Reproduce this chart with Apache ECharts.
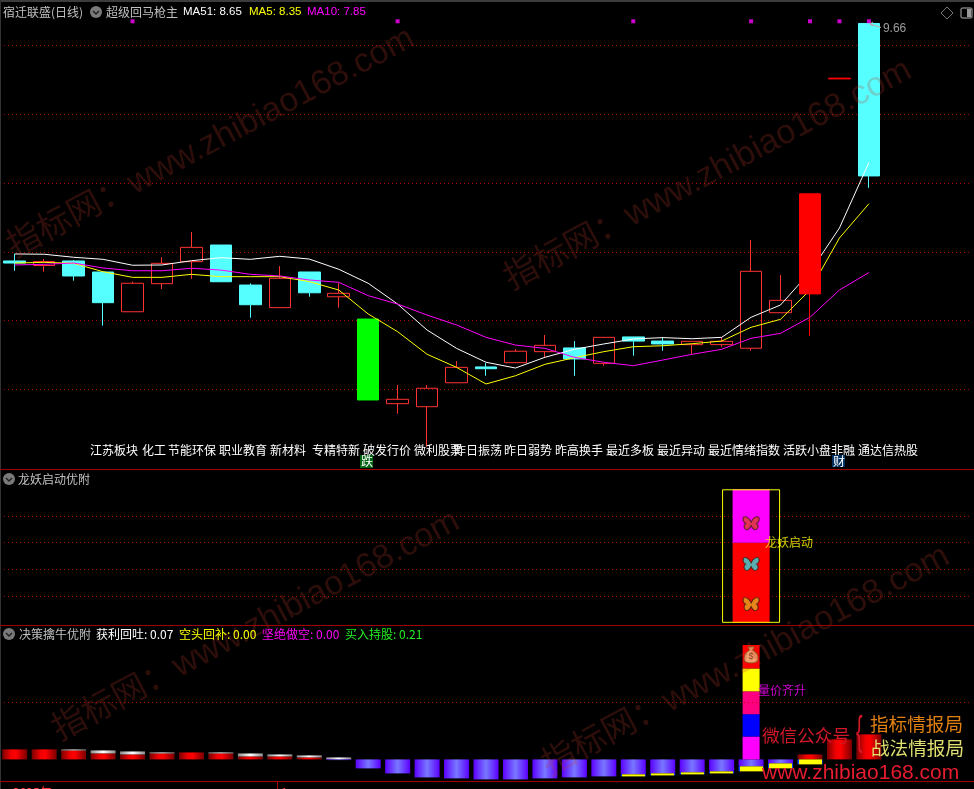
<!DOCTYPE html>
<html>
<head>
<meta charset="utf-8">
<style>
  html, body { margin: 0; padding: 0; background: #000; overflow: hidden; }
  #main { width: 974px; height: 789px; }
</style>
<script src="https://cdn.jsdelivr.net/npm/echarts@6/dist/echarts.min.js"></script>
</head>
<body>
<div id="main"></div>
<script>
// kline
const kinds  = ['cyan','hollow','cyan','cyan','hollow','hollow','hollow','cyan','cyan','hollow','cyan','hollow','green','hollow','hollow','hollow','cyan','hollow','hollow','cyan','hollow','cyan','cyan','hollow','hollow','hollow','hollow','red','red','cyan']
const opens  = [7.934,7.901,7.934,7.854,7.565,7.769,7.929,8.050,7.759,7.595,7.854,7.674,7.512,6.897,6.875,7.049,7.164,7.195,7.275,7.302,7.190,7.382,7.352,7.326,7.326,7.300,7.558,7.696,9.257,9.660]
const closes = [7.919,7.930,7.825,7.631,7.772,7.917,8.033,7.783,7.616,7.808,7.703,7.699,6.924,6.929,7.009,7.161,7.151,7.278,7.321,7.222,7.379,7.352,7.331,7.350,7.350,7.859,7.648,8.421,9.263,8.552]
const lows   = [7.863,7.856,7.791,7.464,7.565,7.730,7.805,7.783,7.522,7.595,7.674,7.595,6.924,6.824,6.584,7.049,7.100,7.195,7.231,7.100,7.173,7.246,7.282,7.256,7.311,7.282,7.558,7.391,9.257,8.466]
const highs  = [7.985,7.948,7.941,7.854,7.784,7.961,8.145,8.050,7.772,7.897,7.854,7.772,7.512,7.033,7.033,7.207,7.192,7.294,7.396,7.352,7.379,7.382,7.379,7.350,7.379,8.087,7.832,8.421,9.263,9.660]
const ma51 = [7.985,7.983,7.961,7.946,7.903,7.905,7.936,7.958,7.946,7.968,7.948,7.874,7.772,7.621,7.432,7.299,7.198,7.156,7.234,7.292,7.331,7.367,7.377,7.369,7.379,7.525,7.614,7.854,8.174,8.650]
const ma5  = [7.919,7.924,7.917,7.856,7.815,7.815,7.837,7.820,7.820,7.820,7.784,7.723,7.549,7.420,7.256,7.161,7.040,7.100,7.183,7.231,7.275,7.311,7.318,7.333,7.352,7.452,7.510,7.723,8.101,8.350]
const ma10 = [7.905,7.910,7.919,7.883,7.863,7.863,7.881,7.868,7.837,7.825,7.796,7.779,7.682,7.621,7.541,7.469,7.379,7.323,7.299,7.234,7.198,7.173,7.214,7.256,7.292,7.372,7.408,7.525,7.723,7.850]
const signalSlots = [4,13,21,25,27,28,29]
const signalLevel = 9.676

// 龙妖启动 panel
const dragonSlot = 25
const dragonRed = 3
const dragonMagenta = 2
const dragonBox = 5
const butterflies = [[3.73,'#d8402c'],[2.2,'#30d8dc'],[0.7,'#e0a820']]

// 决策擒牛 panel
const profitRed   = [0.175,0.175,0.157,0.105,0.087,0.105,0.122,0.105,0.052,0.052,0.035,null,null,null,null,null,null,null,null,null,null,null,null,null,null,null,null,0.087,0.350,0.437]
const profitWhite = [null,null,0.017,0.052,0.052,0.017,null,0.017,0.052,0.035,0.035,0.035,null,null,null,null,null,null,null,null,null,null,null,null,null,null,null,null,null,null]
const holdPurple  = [null,null,null,null,null,null,null,null,null,null,null,-0.012,-0.157,-0.245,-0.315,-0.332,-0.350,-0.350,-0.332,-0.315,-0.297,-0.262,-0.245,-0.227,-0.210,-0.122,-0.070,null,null,null]
const holdYellow  = [null,null,null,null,null,null,null,null,null,null,null,null,null,null,null,null,null,null,null,null,null,-0.035,-0.035,-0.035,-0.035,-0.087,-0.087,-0.087,null,null]
const riseSlot = 25
const riseValues = [0.40,0.39,0.40,0.40,0.41]
const riseColors = ['#ff00ff','#0000ff','#ff0080','#ffff00','#ff0000']
const bagLevel = 1.827
const riseLabelLevel = 1.2

const sectorTags = ['江苏板块','化工','节能环保','职业教育','新材料','专精特新','破发行价','微利股票','昨日振荡','昨日弱势','昨高换手','最近多板','最近异动','最近情绪指数','活跃小盘非融','通达信热股']
const sectorLeft = [90,142,168,219,270,312,363,414,454,504,555,606,657,708,783,858]

const slots = opens.map((_, i) => String(i + 1)).concat(['', '', ''])

const UI = '"Noto Sans CJK SC", sans-serif'
const LATIN = '"Liberation Sans", sans-serif'
const GRID_RED = '#b00000'

const kindColors = {
  cyan: ['#55ffff', '#55ffff'],
  hollow: ['transparent', '#ff3232'],
  green: ['#00ff00', '#00ff00'],
  red: ['#ff0000', '#ff0000']
}

function candleItem(i) {
  const c = kindColors[kinds[i]]
  return {
    value: [opens[i], closes[i], lows[i], highs[i]],
    itemStyle: { color: c[0], color0: c[0], borderColor: c[1], borderColor0: c[1] }
  }
}

function bands(stops) {
  return new echarts.graphic.LinearGradient(0, 0, 1, 0, stops)
}
const redFill = bands([{offset:0,color:'#7a0000'},{offset:0.35,color:'#f00000'},{offset:0.55,color:'#ff0000'},{offset:1,color:'#7a0000'}])
const whiteFill = bands([{offset:0,color:'#8a8a8a'},{offset:0.5,color:'#ffffff'},{offset:1,color:'#8a8a8a'}])
const purpleFill = bands([{offset:0,color:'#5c00ff'},{offset:0.5,color:'#7878ff'},{offset:1,color:'#5c00ff'}])
const yellowFill = bands([{offset:0,color:'#0040ff'},{offset:0.04,color:'#0040ff'},{offset:0.04,color:'#ffff00'},{offset:0.96,color:'#ffff00'},{offset:0.96,color:'#0040ff'},{offset:1,color:'#0040ff'}])

const BUTTERFLY = 'path://M8 5C6 1 3 0 1 1C0 3 1 5 3 6C1 7 1 10 3 11C5 12 7 10 8 8C9 10 11 12 13 11C15 10 15 7 13 6C15 5 16 3 15 1C13 0 10 1 8 5Z'
const BAG = 'path://M5 0L11 0L9.5 3C13 5 15 8 15 11C15 14 12 15 8 15C4 15 1 14 1 11C1 8 3 5 6.5 3Z'

function xAxis(gridIndex) {
  return { type: 'category', gridIndex, data: slots, show: false, boundaryGap: true }
}
function yAxis(gridIndex, min, max, interval, lines) {
  return {
    type: 'value', gridIndex, min, max, interval,
    axisLine: { show: false }, axisTick: { show: false }, axisLabel: { show: false },
    splitLine: {
      show: lines, showMinLine: false, showMaxLine: false,
      lineStyle: { color: GRID_RED, type: [1, 3], width: 1 }
    }
  }
}

function label(text, x, y, fill, size, family) {
  return {
    type: 'text', x, y, z: 50,
    style: { text, fill, font: (size || 12) + 'px ' + (family || UI), verticalAlign: 'middle' }
  }
}
function line(x1, y1, x2, y2, stroke, width) {
  return { type: 'line', z: 50, shape: { x1, y1, x2, y2 }, style: { stroke, lineWidth: width || 1 } }
}
function chevron(x, y) {
  return [
    { type: 'circle', z: 50, shape: { cx: x, cy: y, r: 6 }, style: { fill: '#7a7a7a' } },
    { type: 'polyline', z: 51, shape: { points: [[x - 3, y - 1], [x, y + 2], [x + 3, y - 1]] }, style: { stroke: '#222', lineWidth: 1.5, fill: null } }
  ]
}
function watermark(x, y) {
  return {
    type: 'text', x, y, z: 40, rotation: 28 * Math.PI / 180,
    style: { text: '指标网：www.zhibiao168.com', fill: 'rgba(190,60,40,0.24)', font: '34px ' + LATIN + ', "Noto Sans CJK SC"', verticalAlign: 'middle' }
  }
}

const graphics = [
  watermark(10, 250), watermark(507, 282), watermark(55, 733), watermark(545, 768),
  { type: 'rect', z: 50, shape: { x: 0, y: 0, width: 974, height: 2 }, style: { fill: '#3c3c3c' } },
  line(0.5, 0, 0.5, 789, '#333'),
  line(0, 469.5, 974, 469.5, '#a00000'),
  line(0, 625.5, 974, 625.5, '#a00000'),
  line(0, 781.5, 974, 781.5, '#a00000'),
  // header main
  label('宿迁联盛(日线)', 3, 12, '#c0c0c0'),
  ...chevron(96, 12),
  label('超级回马枪主', 106, 12, '#c0c0c0'),
  label('MA51: 8.65', 183, 12, '#ffffff', 11.5, LATIN),
  label('MA5: 8.35', 249, 12, '#ffff00', 11.5, LATIN),
  label('MA10: 7.85', 307, 12, '#ff00ff', 11.5, LATIN),
  // top right tools
  { type: 'polygon', z: 50, shape: { points: [[947, 7], [953, 13], [947, 19], [941, 13]] }, style: { stroke: '#777', fill: null } },
  { type: 'rect', z: 50, shape: { x: 961, y: 8, width: 11, height: 10, r: 2 }, style: { stroke: '#777', fill: null, lineWidth: 1.5 } },
  { type: 'rect', z: 51, shape: { x: 967, y: 9, width: 4, height: 8 }, style: { fill: '#999' } },
  // high price pointer
  { type: 'polyline', z: 50, shape: { points: [[881, 27.5], [870, 24]] }, style: { stroke: '#c8a0a0', fill: null } },
  { type: 'polyline', z: 50, shape: { points: [[873, 22], [870, 24], [873, 26]] }, style: { stroke: '#c8a0a0', fill: null } },
  // sector tag row
  ...sectorTags.map((t, i) => label(t, sectorLeft[i], 450, '#ffffff')),
  { type: 'rect', z: 50, shape: { x: 360, y: 455, width: 13, height: 13 }, style: { fill: '#006414' } },
  label('跌', 361, 461.5, '#ffffff'),
  { type: 'rect', z: 50, shape: { x: 832, y: 455, width: 13, height: 12 }, style: { fill: '#003060' } },
  label('财', 833, 461, '#ffffff'),
  // panel 2, panel 3 headers
  ...chevron(9, 479),
  label('龙妖启动优附', 18, 479, '#c0c0c0'),
  ...chevron(9, 634),
  label('决策擒牛优附', 19, 634, '#c0c0c0'),
  label('获利回吐: 0.07', 96, 634, '#ffffff'),
  label('空头回补: 0.00', 179, 634, '#ffff00'),
  label('坚绝做空: 0.00', 262, 634, '#ff00ff'),
  label('买入持股: 0.21', 345, 634, '#20f020'),
  // date strip, cut by the window edge
  label('2025年', 13, 792, '#ff3232'),
  line(277.5, 781, 277.5, 789, '#a00000'),
  label('1', 281, 792, '#ff3232'),
  // site logo
  label('微信公众号', 762, 735, '#d01828', 17.6),
  { type: 'text', x: 856, y: 734, z: 50, scaleX: 0.5, style: { text: '{', fill: '#d01828', font: '40px ' + LATIN, verticalAlign: 'middle' } },
  label('指标情报局', 870, 724, '#e08010', 18.6),
  label('战法情报局', 871, 748, '#e0e070', 18.6),
  label('www.zhibiao168.com', 762, 773, '#e81c30', 21, LATIN)
]

const option = {
  backgroundColor: '#000',
  animation: false,
  grid: [
    { left: -2, width: 974, top: 11.1, height: 447.2 },
    { left: -2, width: 974, top: 489.3, height: 133.5 },
    { left: -2, width: 974, top: 645, height: 135.85 }
  ],
  xAxis: [xAxis(0), xAxis(1), xAxis(1), xAxis(2), xAxis(2)],
  yAxis: [yAxis(0, 6.5, 9.75, 0.5, true), yAxis(1, 0, 5, 1, true), yAxis(2, -0.375, 2, 1, false)],
  series: [
    {
      type: 'candlestick', xAxisIndex: 0, yAxisIndex: 0, barWidth: 22, z: 2,
      itemStyle: { borderWidth: 1 },
      data: opens.map((_, i) => candleItem(i))
    },
    ...[[ma51, '#ffffff'], [ma5, '#ffff00'], [ma10, '#ff00ff']].map(([data, color]) => ({
      type: 'line', xAxisIndex: 0, yAxisIndex: 0, data, symbol: 'none', z: 3,
      lineStyle: { color, width: 1 }
    })),
    {
      // the big red candle covers the averages
      type: 'candlestick', xAxisIndex: 0, yAxisIndex: 0, barWidth: 22, z: 4,
      itemStyle: { borderWidth: 1 },
      data: opens.map((_, i) => (i === 27 ? candleItem(i) : '-'))
    },
    {
      type: 'scatter', xAxisIndex: 0, yAxisIndex: 0, symbol: 'rect', symbolSize: 4, z: 5,
      itemStyle: { color: '#ff00ff' },
      data: signalSlots.map(i => [i, signalLevel])
    },
    {
      type: 'scatter', xAxisIndex: 0, yAxisIndex: 0, symbolSize: 0, z: 5,
      data: [[29, highs[29]]],
      label: { show: true, position: 'right', offset: [9, 5], color: '#c0c0c0', fontSize: 12, fontFamily: LATIN, formatter: p => p.value[1].toFixed(2) }
    },
    // 龙妖启动
    { type: 'bar', xAxisIndex: 1, yAxisIndex: 1, stack: 'dragon', barWidth: 37, data: [[dragonSlot, dragonRed]], itemStyle: { color: '#ff0000' } },
    { type: 'bar', xAxisIndex: 1, yAxisIndex: 1, stack: 'dragon', barWidth: 37, data: [[dragonSlot, dragonMagenta]], itemStyle: { color: '#ff00ff' } },
    { type: 'bar', xAxisIndex: 2, yAxisIndex: 1, barWidth: 58, z: 3, data: [[dragonSlot, dragonBox]], itemStyle: { color: 'transparent', borderColor: '#ffff00', borderWidth: 1 } },
    {
      type: 'scatter', xAxisIndex: 1, yAxisIndex: 1, symbol: BUTTERFLY, symbolSize: [16, 13], z: 6,
      data: butterflies.map(b => ({ value: [dragonSlot, b[0]], itemStyle: { color: b[1], borderColor: '#3a1c10', borderWidth: 1 } }))
    },
    {
      type: 'scatter', xAxisIndex: 1, yAxisIndex: 1, symbolSize: 0, z: 6,
      data: [[dragonSlot, dragonRed]],
      label: { show: true, position: 'right', offset: [9, 0], color: '#ffff00', fontSize: 12, fontFamily: UI, formatter: '龙妖启动' }
    },
    // 决策擒牛
    { type: 'bar', xAxisIndex: 3, yAxisIndex: 2, stack: 'flow', barWidth: 25, data: profitRed, itemStyle: { color: redFill },
      markLine: { silent: true, symbol: 'none', label: { show: false }, lineStyle: { color: GRID_RED, type: [1, 3], width: 1 }, data: [{ yAxis: 1 }] } },
    { type: 'bar', xAxisIndex: 3, yAxisIndex: 2, stack: 'flow', barWidth: 25, data: profitWhite, itemStyle: { color: whiteFill } },
    { type: 'bar', xAxisIndex: 3, yAxisIndex: 2, stack: 'flow', barWidth: 25, data: holdPurple, itemStyle: { color: purpleFill } },
    { type: 'bar', xAxisIndex: 3, yAxisIndex: 2, stack: 'flow', barWidth: 25, data: holdYellow, itemStyle: { color: yellowFill } },
    ...riseValues.map((v, i) => ({
      type: 'bar', xAxisIndex: 4, yAxisIndex: 2, stack: 'rise', barWidth: 17, z: 3,
      data: [[riseSlot, v]], itemStyle: { color: riseColors[i] }
    })),
    {
      type: 'scatter', xAxisIndex: 4, yAxisIndex: 2, symbol: BAG, symbolSize: [14, 16], z: 6,
      data: [[riseSlot, bagLevel]],
      itemStyle: { color: '#f0c888', borderColor: '#8a5a20', borderWidth: 1 },
      label: { show: true, position: 'inside', offset: [0, 2], color: '#702010', fontSize: 9, fontFamily: LATIN, formatter: '$' }
    },
    {
      type: 'scatter', xAxisIndex: 4, yAxisIndex: 2, symbolSize: 0, z: 6,
      data: [[riseSlot, riseLabelLevel]],
      label: { show: true, position: 'right', offset: [2, 0], color: '#ff00ff', fontSize: 12, fontFamily: UI, formatter: '量价齐升' }
    }
  ],
  graphic: graphics
}

const chart = echarts.init(document.getElementById('main'))
chart.setOption(option)
</script>
</body>
</html>
